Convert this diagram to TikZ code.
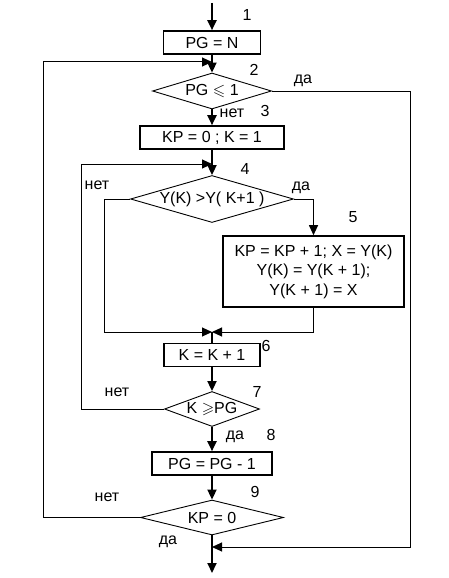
\documentclass[tikz,border=0pt]{standalone}
\usepackage{fontspec}
\setmainfont{Liberation Sans}
\usepackage{amssymb}
\usetikzlibrary{arrows.meta,shapes.geometric}
\begin{document}
\begin{tikzpicture}[x=1pt,y=-1pt,
  font=\fontsize{16}{19.5}\selectfont,
  blk/.style 2 args={draw, line width=1.6pt, inner sep=0pt, minimum width=#1, minimum height=#2, align=center},
  dia/.style 2 args={draw, diamond, line width=0.9pt, inner sep=0pt, minimum width=#1, minimum height=#2},
  thk/.style={line width=2pt},
  thn/.style={line width=1pt},
  tip/.style={-{Triangle[length=10pt,width=9pt]}},
  num/.style={inner sep=0pt, text height=11pt, text depth=0pt},
  word/.style={inner sep=0pt, text height=8pt, text depth=0pt},
  lbl/.style={inner sep=0pt}
]
\useasboundingbox (0,0) rectangle (449,578);
\fill[white] (0,0) rectangle (449,578);

% blocks
\node[blk={97}{23}] (b1) at (212,42.5) {PG = N};
\node[dia={119}{36}] (d2) at (212,91) {};
\node[lbl] (d2t) at (d2) {PG $\leqslant$ 1};
\node[blk={144}{23}] (b3) at (212,137.5) {KP = 0 ; K = 1};
\node[dia={163}{47}] (d4) at (212,199) {};
\node[lbl] (d4t) at (d4) {Y(K) >Y( K+1 )};
\node[blk={181}{71}] (b5) at (313.5,271.5) {KP = KP + 1; X = Y(K)\\Y(K) = Y(K + 1);\\Y(K + 1) = X};
\node[blk={96}{23}] (b6) at (212,355) {K = K + 1};
\node[dia={95}{35}] (d7) at (212,409) {};
\node[lbl] (d7t) at (d7) {K $\geqslant$PG};
\node[blk={120}{23}] (b8) at (212,463.5) {PG = PG - 1};
\node[dia={143}{35}] (d9) at (212,517.5) {};
\node[lbl] (d9t) at (d9) {KP = 0};

% coordinates
\coordinate (start) at (212,3);
\coordinate (stop) at (212,573);
\coordinate (j1) at (212,62);
\coordinate (outerL) at (43,62);
\coordinate (outerR) at (410,91);
\coordinate (jend) at (212,547);
\coordinate (j4) at (212,164);
\coordinate (loopL) at (81,164);
\coordinate (innerL) at (104,332);
\coordinate (j6) at (212,332);

% main column
\draw[thk,tip] (start) -- (b1.north);
\draw[thk,tip] (b1.south) -- (d2.north);
\draw[thk,tip] (d2.south) -- (b3.north);
\draw[thk,tip] (b3.south) -- (d4.north);
\draw[thk] (j6) -- (b6.north);
\draw[thk,tip] (b6.south) -- (d7.north);
\draw[thk,tip] (d7.south) -- (b8.north);
\draw[thk,tip] (b8.south) -- (d9.north);
\draw[thk,tip] (d9.south) -- (stop);

% branches
\draw[thn,tip] (d9.west) -| (outerL) -- (j1);
\draw[thn,tip] (d2.east) -- (outerR) |- (jend);
\draw[thn,tip] (d4.west) -| (innerL) -- (j6);
\draw[thn,tip] (d4.east) -| (b5.north);
\draw[thn,tip] (b5.south) |- (j6);
\draw[thn,tip] (d7.west) -| (loopL) -- (j4);

% labels
\node[num] (n1) at (247,15) {1};
\node[num] (n2) at (254,70) {2};
\node[word] (y2) at (303,79) {да};
\node[word] (no2) at (232,113) {нет};
\node[num] (n3) at (265,111) {3};
\node[num] (n4) at (245,169) {4};
\node[word] (no4) at (97,185) {нет};
\node[word] (y4) at (301,186) {да};
\node[num] (n5) at (353,217) {5};
\node[num] (n6) at (266,346) {6};
\node[num] (n7) at (257,392) {7};
\node[word] (no7) at (117,392) {нет};
\node[word] (y7) at (235,435) {да};
\node[num] (n8) at (271,435) {8};
\node[num] (n9) at (255,492) {9};
\node[word] (no9) at (107,497) {нет};
\node[word] (y9) at (168,540) {да};
\end{tikzpicture}
\end{document}
